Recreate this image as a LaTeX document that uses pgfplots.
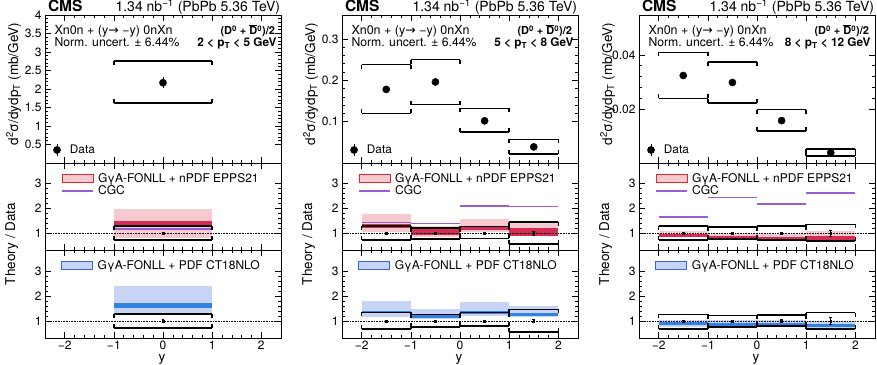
\documentclass[border=0pt]{standalone}
\usepackage{fontspec}
\setmainfont{TeX Gyre Heros}
\newfontfamily\symfont{DejaVu Sans}
\usepackage{pgfplots}
\pgfplotsset{compat=1.18}

\definecolor{lpink}{RGB}{246,202,206}
\definecolor{dred}{RGB}{214,44,84}
\definecolor{lred}{RGB}{226,40,46}
\definecolor{cgc}{RGB}{152,92,212}
\definecolor{lblue}{RGB}{200,212,245}
\definecolor{dblue}{RGB}{50,130,225}
\definecolor{bblue}{RGB}{52,102,222}

\newcommand{\fs}[1]{\fontsize{#1}{#1}\selectfont}

\pgfdeclareplotmark{tdown}{\pgfpathmoveto{\pgfqpoint{0pt}{0pt}}\pgfpathlineto{\pgfqpoint{0pt}{-4pt}}\pgfusepathqstroke}
\pgfdeclareplotmark{tup}{\pgfpathmoveto{\pgfqpoint{0pt}{0pt}}\pgfpathlineto{\pgfqpoint{0pt}{4pt}}\pgfusepathqstroke}

\newcommand{\brk}[4]{%
  \addplot[black, line width=1.5pt, mark=tdown, forget plot] coordinates {(#1,#4) (#2,#4)};
  \addplot[black, line width=1.5pt, mark=tup, forget plot] coordinates {(#1,#3) (#2,#3)};}
\newcommand{\band}[5]{\addplot[fill=#1, draw=none, forget plot] coordinates {(#2,#4) (#3,#4) (#3,#5) (#2,#5)} -- cycle;}
\newcommand{\cgcl}[3]{\addplot[cgc, line width=1.8pt, forget plot] coordinates {(#1,#3) (#2,#3)};}
\newcommand{\unity}{\addplot[black, densely dotted, line width=0.6pt, forget plot] coordinates {(-2.4,1) (2.4,1)};}

\pgfplotsset{
  base/.style={scale only axis, width=236pt, xmin=-2.4, xmax=2.4, anchor=south west,
    xtick={-2,-1,0,1,2}, minor x tick num=4, minor y tick num=4,
    tick align=inside, tick pos=both, scaled y ticks=false, scaled x ticks=false,
    major tick length=6pt, minor tick length=3pt,
    every tick/.style={black, line width=0.6pt}, axis line style={line width=0.9pt},
    tick label style={font=\fs{12}}, xticklabel style={yshift=1pt},
    /pgf/number format/assume math mode=true,
    legend cell align=left},
  nox/.style={xticklabels={}},
  withx/.style={xticklabels={−2,−1,0,1,2}},
  ratio/.style={ytick={1,2,3}, yticklabels={1,2,3}},
  rleg/.style={legend style={at={(axis description cs:0.068,0.886)}, anchor=north west, draw=none, fill=none,
      font=\fs{12}, inner sep=0pt, row sep=0pt, nodes={inner sep=1pt, text depth=2pt, text height=8pt}}},
  mid/.style={base, nox, ratio, rleg, height=87pt, ymin=0.33, ymax=3.81},
  bot/.style={base, withx, ratio, rleg, height=88pt, ymin=0.32, ymax=3.85},
  top/.style={base, nox, height=148pt,
    legend style={at={(axis description cs:0.034,0.088)}, anchor=west, draw=none, fill=none,
      font=\fs{11.8}, inner sep=0pt, nodes={inner sep=1pt}}},
  dpt/.style={black, only marks, mark=*, mark size=3.6pt, forget plot,
    error bars/.cd, y dir=both, y explicit, error bar style={line width=0.8pt}, error mark=none},
  rpt/.style={black, only marks, mark=square*, mark size=0.9pt, forget plot,
    error bars/.cd, y dir=both, y explicit, error bar style={line width=0.7pt},
    error mark options={rotate=90, mark size=1.3pt, line width=0.7pt}},
}

\newcommand{\legdata}{%
  \addlegendimage{legend image code/.code={\path[draw=none, fill=none] (0pt,0pt) -- (15.5pt,0pt); \draw[black, line width=0.8pt] (3.6pt,-6pt) -- (3.6pt,6pt); \fill[black] (3.6pt,0pt) circle (3.6pt);}}
  \addlegendentry{Data}}
\newcommand{\legepps}{%
  \addlegendimage{legend image code/.code={\path[draw=none, fill=none] (0pt,0pt) -- (35pt,0pt); \draw[fill=lpink, draw=lred, line width=1pt] (0pt,-3.5pt) rectangle (31pt,4.5pt);}}
  \addlegendentry{GγA-FONLL + nPDF EPPS21}
  \addlegendimage{legend image code/.code={\path[draw=none, fill=none] (0pt,0pt) -- (35pt,0pt); \draw[cgc, line width=1.8pt] (0pt,0.5pt) -- (31pt,0.5pt);}}
  \addlegendentry{CGC}}
\newcommand{\legct}{%
  \addlegendimage{legend image code/.code={\path[draw=none, fill=none] (0pt,0pt) -- (35pt,0pt); \draw[fill=lblue, draw=bblue, line width=1pt] (0pt,-3.5pt) rectangle (31pt,4.5pt);}}
  \addlegendentry{GγA-FONLL + PDF CT18NLO}}

\newcommand{\coltext}[1]{%
  \begin{scope}[every node/.style={inner sep=0pt, outer sep=0pt}]
  \node[anchor=base west, font=\bfseries\fs{15.5}] at (3pt,352.5pt) {CMS};
  \node[anchor=base east, font=\fs{14}] at (235pt,352.5pt) {1.34 nb\textsuperscript{−1} (PbPb 5.36 TeV)};
  \node[anchor=base west, font=\fs{12.5}] at (9.5pt,329pt) {Xn0n + (y{\symfont →} −y) 0nXn};
  \node[anchor=base west, font=\fs{12.2}] at (9.5pt,317.5pt) {Norm. uncert. ± 6.44\%};
  \node[anchor=base east, font=\bfseries\fs{11}] at (230pt,329pt) {(D\textsuperscript{0} + $\overline{\mbox{D}}$\textsuperscript{0})/2};
  \node[anchor=base east, font=\bfseries\fs{11.8}] at (231.5pt,317.5pt) {#1};
  \node[anchor=base, rotate=90, font=\fs{13.5}] at (-27pt,280pt) {d\textsuperscript{2}σ/dydp\textsubscript{T} (mb/GeV)};
  \node[anchor=base, rotate=90, font=\fs{13.5}] at (-30pt,120pt) {Theory / Data};
  \node[anchor=base, font=\fs{13.5}] at (117pt,3pt) {y};
  \end{scope}}

\begin{document}
\begin{tikzpicture}[x=1pt,y=1pt]
\useasboundingbox (0,0) rectangle (877,364);

% ================= column 1 : 2 < pT < 5 =================
\begin{axis}[top, at={(45pt,201pt)}, ymin=0, ymax=4,
  ytick={0.5,1,1.5,2,2.5,3,3.5,4}, yticklabels={0.5,1,1.5,2,2.5,3,3.5,4}]
  \brk{-1}{1}{1.62}{2.75}
  \addplot[dpt] coordinates {(0,2.17) +- (0,0.15)};
  \legdata
\end{axis}
\begin{axis}[mid, at={(45pt,114pt)}]
  \band{lpink}{-1}{1}{0.80}{1.96}
  \band{dred}{-1}{1}{1.27}{1.47}
  \cgcl{-1}{1}{1.18}
  \brk{-1}{1}{0.73}{1.28}
  \unity
  \addplot[rpt] coordinates {(0,1) +- (0,0.05)};
  \legepps
\end{axis}
\begin{axis}[bot, at={(45pt,26pt)}]
  \band{lblue}{-1}{1}{1.33}{2.40}
  \band{dblue}{-1}{1}{1.54}{1.72}
  \brk{-1}{1}{0.73}{1.28}
  \unity
  \addplot[rpt] coordinates {(0,1) +- (0,0.05)};
  \legct
\end{axis}
\begin{scope}[xshift=45pt]
  \coltext{2 < p\textsubscript{T} < 5 GeV}
\end{scope}

% ================= column 2 : 5 < pT < 8 =================
\begin{axis}[top, at={(342pt,201pt)}, ymin=0, ymax=0.358,
  ytick={0.1,0.2,0.3}, yticklabels={0.1,0.2,0.3}]
  \brk{-2}{-1}{0.120}{0.238}
  \brk{-1}{0}{0.141}{0.250}
  \brk{0}{1}{0.0755}{0.132}
  \brk{1}{2}{0.0217}{0.057}
  \addplot[dpt] coordinates {(-1.5,0.178) +- (0,0.005) (-0.5,0.196) +- (0,0.006) (0.5,0.102) +- (0,0.004) (1.5,0.039) +- (0,0.003)};
  \legdata
\end{axis}
\begin{axis}[mid, at={(342pt,114pt)}]
  \band{lpink}{-2}{-1}{1.05}{1.75}
  \band{lpink}{-1}{0}{0.84}{1.27}
  \band{lpink}{0}{1}{1.05}{1.56}
  \band{lpink}{1}{2}{0.87}{1.40}
  \band{dred}{-2}{-1}{1.22}{1.36}
  \band{dred}{-1}{0}{0.93}{1.16}
  \band{dred}{0}{1}{1.12}{1.28}
  \band{dred}{1}{2}{0.89}{1.20}
  \cgcl{-2}{-1}{1.43}
  \cgcl{-1}{0}{1.39}
  \cgcl{0}{1}{2.09}
  \cgcl{1}{2}{2.07}
  \brk{-2}{-1}{0.73}{1.29}
  \brk{-1}{0}{0.76}{1.20}
  \brk{0}{1}{0.79}{1.27}
  \brk{1}{2}{0.57}{1.45}
  \unity
  \addplot[rpt] coordinates {(-1.5,1) +- (0,0.03) (-0.5,1) +- (0,0.03) (0.5,1) +- (0,0.04) (1.5,1) +- (0,0.07)};
  \legepps
\end{axis}
\begin{axis}[bot, at={(342pt,26pt)}]
  \band{lblue}{-2}{-1}{1.16}{1.79}
  \band{lblue}{-1}{0}{1.10}{1.50}
  \band{lblue}{0}{1}{1.20}{1.77}
  \band{lblue}{1}{2}{1.15}{1.60}
  \band{dblue}{-2}{-1}{1.32}{1.40}
  \band{dblue}{-1}{0}{1.13}{1.23}
  \band{dblue}{0}{1}{1.30}{1.40}
  \band{dblue}{1}{2}{1.21}{1.34}
  \brk{-2}{-1}{0.69}{1.35}
  \brk{-1}{0}{0.76}{1.27}
  \brk{0}{1}{0.80}{1.34}
  \brk{1}{2}{0.56}{1.47}
  \unity
  \addplot[rpt] coordinates {(-1.5,1) +- (0,0.03) (-0.5,1) +- (0,0.03) (0.5,1) +- (0,0.04) (1.5,1) +- (0,0.07)};
  \legct
\end{axis}
\begin{scope}[xshift=342pt]
  \coltext{5 < p\textsubscript{T} < 8 GeV}
\end{scope}

% ================= column 3 : 8 < pT < 12 =================
\begin{axis}[top, at={(639pt,201pt)}, ymin=0, ymax=0.0548,
  ytick={0.02,0.04}, yticklabels={0.02,0.04}]
  \brk{-2}{-1}{0.0239}{0.0410}
  \brk{-1}{0}{0.0223}{0.0374}
  \brk{0}{1}{0.0119}{0.0198}
  \brk{1}{2}{0.0026}{0.0052}
  \addplot[dpt] coordinates {(-1.5,0.0324) +- (0,0.0013) (-0.5,0.0298) +- (0,0.0012) (0.5,0.0157) +- (0,0.0008) (1.5,0.0038) +- (0,0.0005)};
  \legdata
\end{axis}
\begin{axis}[mid, at={(639pt,114pt)}]
  \band{lpink}{-2}{-1}{0.83}{1.08}
  \band{lpink}{-1}{0}{0.74}{0.96}
  \band{lpink}{0}{1}{0.72}{0.95}
  \band{lpink}{1}{2}{0.67}{1.07}
  \band{dred}{-2}{-1}{0.84}{0.97}
  \band{dred}{-1}{0}{0.79}{0.88}
  \band{dred}{0}{1}{0.77}{0.86}
  \band{dred}{1}{2}{0.71}{0.89}
  \cgcl{-2}{-1}{1.64}
  \cgcl{-1}{0}{2.43}
  \cgcl{0}{1}{2.17}
  \cgcl{1}{2}{2.60}
  \brk{-2}{-1}{0.73}{1.29}
  \brk{-1}{0}{0.76}{1.25}
  \brk{0}{1}{0.73}{1.28}
  \brk{1}{2}{0.68}{1.35}
  \unity
  \addplot[rpt] coordinates {(-1.5,1) +- (0,0.04) (-0.5,1) +- (0,0.04) (0.5,1) +- (0,0.05) (1.5,1) +- (0,0.13)};
  \legepps
\end{axis}
\begin{axis}[bot, at={(639pt,26pt)}]
  \band{lblue}{-2}{-1}{0.76}{1.05}
  \band{lblue}{-1}{0}{0.75}{1.04}
  \band{lblue}{0}{1}{0.75}{1.04}
  \band{lblue}{1}{2}{0.70}{1.02}
  \band{dblue}{-2}{-1}{0.83}{0.96}
  \band{dblue}{-1}{0}{0.82}{0.92}
  \band{dblue}{0}{1}{0.82}{0.92}
  \band{dblue}{1}{2}{0.78}{0.90}
  \brk{-2}{-1}{0.69}{1.27}
  \brk{-1}{0}{0.76}{1.23}
  \brk{0}{1}{0.80}{1.24}
  \brk{1}{2}{0.68}{1.34}
  \unity
  \addplot[rpt] coordinates {(-1.5,1) +- (0,0.04) (-0.5,1) +- (0,0.04) (0.5,1) +- (0,0.05) (1.5,1) +- (0,0.13)};
  \legct
\end{axis}
\begin{scope}[xshift=639pt]
  \coltext{8 < p\textsubscript{T} < 12 GeV}
\end{scope}
\end{tikzpicture}
\end{document}
